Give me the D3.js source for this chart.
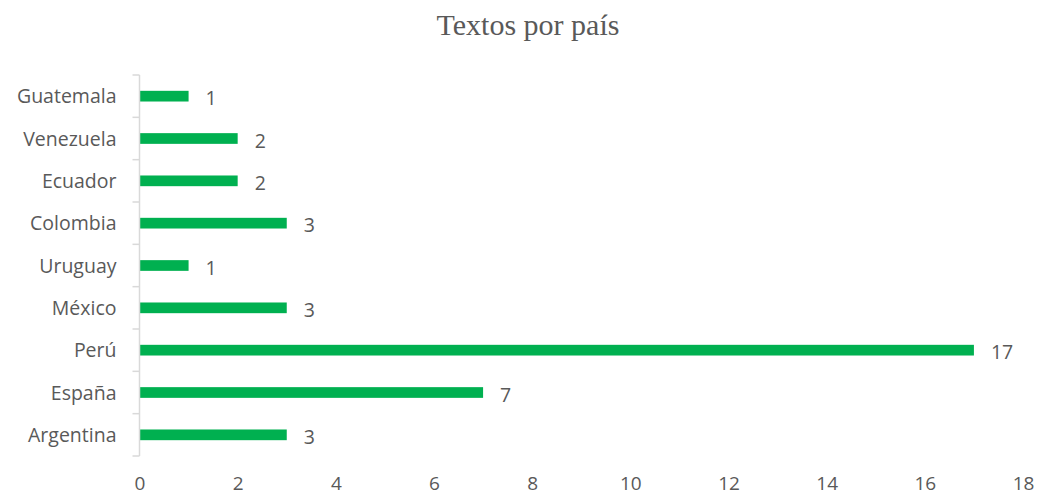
<!DOCTYPE html>
<html>
<head>
<meta charset="utf-8">
<script src="https://cdn.jsdelivr.net/npm/d3@7"></script>
<style>
  body { margin: 0; background: #fff; }
  text { fill: #595959; }
</style>
</head>
<body>
<svg id="chart" width="1042" height="498"></svg>
<script>
// chart data, top to bottom as drawn
var countries = ["Guatemala", "Venezuela", "Ecuador", "Colombia", "Uruguay", "México", "Perú", "España", "Argentina"];
var textCounts = [1, 2, 2, 3, 1, 3, 17, 7, 3];
var xTicks = [0, 2, 4, 6, 8, 10, 12, 14, 16, 18];

var svg = d3.select("#chart");
var plotLeft = 139.5, plotRight = 1023, plotTop = 75, plotBottom = 456;
var labelFont = "'Open Sans', sans-serif";
var fontSize = 19.5;

var x = d3.scaleLinear().domain([0, 18]).range([plotLeft, plotRight]);
var y = d3.scaleBand().domain(countries).range([plotTop, plotBottom]);
var barH = 10.7;

// title
svg.append("text")
    .attr("x", 528)
    .attr("y", 35)
    .attr("text-anchor", "middle")
    .style("font-family", "'Liberation Serif', 'Times New Roman', serif")
    .style("font-size", "30px")
    .text("Textos por país");

// bars
svg.append("g").selectAll("rect")
    .data(countries)
  .enter().append("rect")
    .attr("x", x(0) + 0.5)
    .attr("y", function(d) { return y(d) + y.bandwidth() / 2 - barH / 2; })
    .attr("width", function(d, i) { return x(textCounts[i]) - x(0) - 0.5; })
    .attr("height", barH)
    .attr("fill", "#00B050");

// value labels
svg.append("g").selectAll("text")
    .data(countries)
  .enter().append("text")
    .attr("x", function(d, i) { return x(textCounts[i]) + 17; })
    .attr("y", function(d) { return y(d) + y.bandwidth() / 2 + 9; })
    .style("font-family", labelFont)
    .style("font-size", fontSize + "px")
    .text(function(d, i) { return textCounts[i]; });

// category axis with ticks between bands
var yAxis = svg.append("g").attr("transform", "translate(" + plotLeft + ",0)");
yAxis.append("line")
    .attr("x1", 0).attr("x2", 0)
    .attr("y1", plotTop).attr("y2", plotBottom)
    .attr("stroke", "#d9d9d9").attr("stroke-width", 1.5);
var edges = countries.map(function(d) { return y(d); }).concat([plotBottom]);
yAxis.selectAll("line.tick")
    .data(edges)
  .enter().append("line")
    .attr("class", "tick")
    .attr("x1", -7).attr("x2", 0)
    .attr("y1", function(d) { return d; })
    .attr("y2", function(d) { return d; })
    .attr("stroke", "#d9d9d9").attr("stroke-width", 1.5);
yAxis.selectAll("text")
    .data(countries)
  .enter().append("text")
    .attr("x", -23)
    .attr("y", function(d) { return y(d) + y.bandwidth() / 2 + 7; })
    .attr("text-anchor", "end")
    .style("font-family", labelFont)
    .style("font-size", fontSize + "px")
    .text(function(d) { return d; });

// value axis: labels only
var xAxis = svg.append("g")
    .attr("transform", "translate(0," + 476 + ")")
    .call(d3.axisBottom(x).tickValues(xTicks).tickSize(0).tickPadding(0));
xAxis.select(".domain").remove();
xAxis.selectAll("text")
    .attr("fill", "#595959")
    .style("font-family", labelFont)
    .style("font-size", "19px");
</script>
</body>
</html>
